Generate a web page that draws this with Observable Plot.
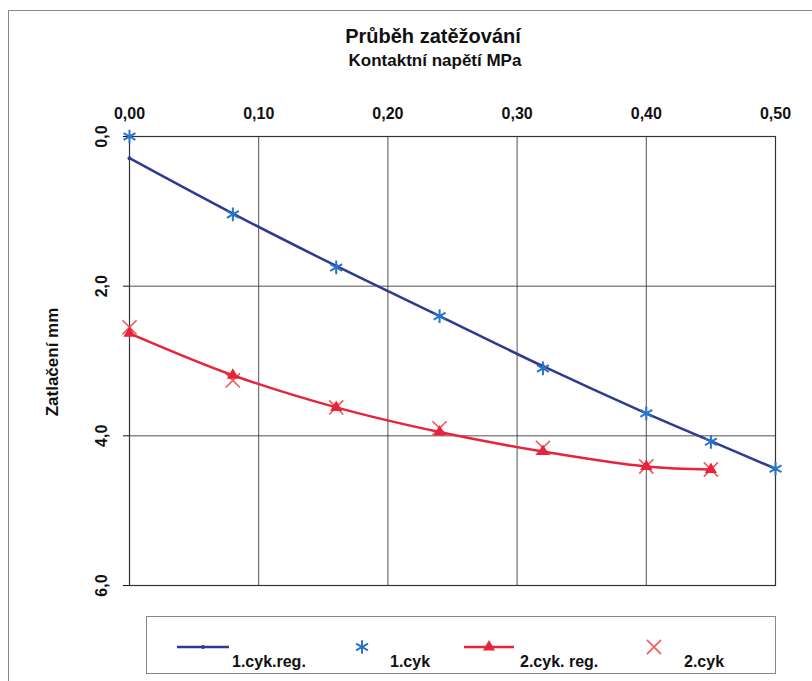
<!DOCTYPE html>
<html>
<head>
<meta charset="utf-8">
<script src="https://cdn.jsdelivr.net/npm/d3@7"></script>
<script src="https://cdn.jsdelivr.net/npm/@observablehq/plot@0.6"></script>
<style>
  html, body { margin: 0; padding: 0; background: #fff; }
  body { width: 812px; height: 681px; position: relative; overflow: hidden; font-family: "Liberation Sans", Arial, sans-serif; }
  #frame { position: absolute; left: 8px; top: 10px; width: 810px; height: 680px; border-left: 1px solid #888; border-top: 1px solid #888; box-sizing: border-box; }
  #title { position: absolute; left: 0; width: 866px; top: 25px; text-align: center; font-weight: bold; font-size: 20px; line-height: 1.15; color: #111; }
  #subtitle { position: absolute; left: 0; width: 870px; top: 51px; text-align: center; font-weight: bold; font-size: 17px; line-height: 1.15; color: #111; }
  #ylabel { position: absolute; left: 53px; top: 362px; transform: translate(-50%, -50%) rotate(-90deg); font-weight: bold; font-size: 17px; white-space: nowrap; color: #111; }
  #chart { position: absolute; left: 0; top: 85px; }
  #legend { position: absolute; left: 146px; top: 616px; width: 630px; height: 58px; border: 1px solid #888; box-sizing: border-box; background: #fff; }
  .li { position: absolute; top: 0; height: 58px; }
  .li svg { position: absolute; top: 0; }
  .li span { position: absolute; top: 36px; font-weight: bold; font-size: 16px; line-height: 1.15; white-space: nowrap; color: #111; }
</style>
</head>
<body>
<div id="frame"></div>
<div id="title">Průběh zatěžování</div>
<div id="subtitle">Kontaktní napětí MPa</div>
<div id="chart"></div>
<div id="ylabel">Zatlačení mm</div>
<div id="legend"></div>
<script>
// Data
const napeti1 = [0.00, 0.08, 0.16, 0.24, 0.32, 0.40, 0.45, 0.50];
const cyk1 = [0.00, 1.04, 1.75, 2.40, 3.10, 3.70, 4.08, 4.44];
const cyk1reg = [0.29, 1.03, 1.73, 2.40, 3.07, 3.70, 4.07, 4.44];
const napeti2 = [0.00, 0.08, 0.16, 0.24, 0.32, 0.40, 0.45];
const cyk2 = [2.55, 3.26, 3.62, 3.90, 4.16, 4.41, 4.45];
const cyk2reg = [2.63, 3.19, 3.62, 3.95, 4.21, 4.41, 4.45];
const xTicks = [0, 0.1, 0.2, 0.3, 0.4, 0.5];
const yTicks = [0, 2, 4, 6];
const seriesNames = ["1.cyk.reg.", "1.cyk", "2.cyk. reg.", "2.cyk"];

const colReg1 = "#2f3b8e";
const colCyk1 = "#2a74c8";
const colReg2 = "#e8233c";
const colCyk2 = "#ef5a5a";

const t1 = napeti1.map((x, i) => ({x, y: cyk1[i]}));
const t1r = napeti1.map((x, i) => ({x, y: cyk1reg[i]}));
const t2 = napeti2.map((x, i) => ({x, y: cyk2[i]}));
const t2r = napeti2.map((x, i) => ({x, y: cyk2reg[i]}));

const fx = d => d.toFixed(2).replace(".", ",");
const fy = d => d.toFixed(1).replace(".", ",");

const plot = Plot.plot({
  width: 812,
  height: 515,
  marginLeft: 129,
  marginRight: 37,
  marginTop: 51,
  marginBottom: 15,
  style: {fontFamily: "Liberation Sans, Arial, sans-serif", fontWeight: "bold", fontSize: "16px", color: "#111", background: "transparent"},
  x: {domain: [0, 0.5]},
  y: {domain: [0, 6], reverse: true},
  marks: [
    Plot.gridX(xTicks, {stroke: "#333", strokeOpacity: 0.85, strokeWidth: 1}),
    Plot.gridY(yTicks, {stroke: "#333", strokeOpacity: 0.85, strokeWidth: 1}),
    Plot.frame({stroke: "#333", strokeWidth: 1.2}),
    Plot.axisX(xTicks, {anchor: "top", tickFormat: fx, tickSize: 0, tickPadding: 18, fontSize: 16, fontWeight: "bold", label: null}),
    Plot.axisY(yTicks, {anchor: "left", tickFormat: fy, tickSize: 6, tickRotate: -90, tickPadding: 17, fontSize: 16, fontWeight: "bold", label: null}),
    Plot.line(t1r, {x: "x", y: "y", stroke: colReg1, strokeWidth: 2.5, curve: "catmull-rom"}),
    Plot.dot(t1r, {x: "x", y: "y", fill: colReg1, r: 2}),
    Plot.dot(t1, {x: "x", y: "y", symbol: "asterisk", stroke: colCyk1, r: 6.5, strokeWidth: 2}),
    Plot.dot(t2, {x: "x", y: "y", symbol: "times", stroke: colCyk2, r: 6.5, strokeWidth: 1.6}),
    Plot.line(t2r, {x: "x", y: "y", stroke: colReg2, strokeWidth: 2.5, curve: "catmull-rom"}),
    Plot.dot(t2r, {x: "x", y: "y", symbol: "triangle", fill: colReg2, r: 4.5})
  ]
});
document.getElementById("chart").appendChild(plot);

// Legend
const legend = d3.select("#legend");
const items = [
  {left: 30, w: 52, name: seriesNames[0], kind: "line", color: colReg1, marker: "circle", mr: 2, tx: 55},
  {left: 200, w: 30, name: seriesNames[1], kind: "sym", color: colCyk1, marker: "asterisk", tx: 43},
  {left: 317, w: 50, name: seriesNames[2], kind: "line", color: colReg2, marker: "triangle", mr: 4.5, tx: 56},
  {left: 492, w: 30, name: seriesNames[3], kind: "sym", color: colCyk2, marker: "times", tx: 45}
];
const symMap = {circle: d3.symbolCircle, asterisk: d3.symbolAsterisk, triangle: d3.symbolTriangle, times: d3.symbolTimes};
for (const it of items) {
  const g = legend.append("div").attr("class", "li").style("left", it.left + "px");
  const s = g.append("svg").attr("width", it.w + 10).attr("height", 58);
  const cy = 30;
  if (it.kind === "line") {
    s.append("line").attr("x1", 0).attr("x2", it.w).attr("y1", cy).attr("y2", cy)
      .attr("stroke", it.color).attr("stroke-width", 2.5);
    s.append("path").attr("transform", `translate(${it.w / 2},${cy})`)
      .attr("d", d3.symbol(symMap[it.marker], Math.PI * it.mr * it.mr)()).attr("fill", it.color);
  } else {
    s.append("path").attr("transform", `translate(${it.w / 2},${cy})`)
      .attr("d", d3.symbol(symMap[it.marker], Math.PI * 6.5 * 6.5)())
      .attr("fill", "none").attr("stroke", it.color).attr("stroke-width", it.marker === "asterisk" ? 2 : 1.6);
  }
  g.append("span").style("left", it.tx + "px").text(it.name);
}
</script>
</body>
</html>
